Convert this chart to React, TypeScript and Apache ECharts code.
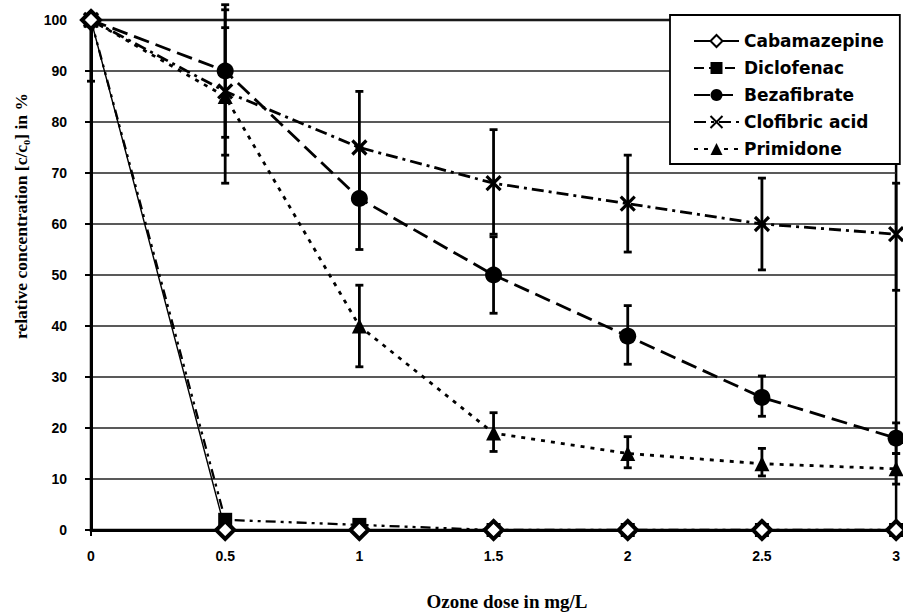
import React, { useEffect, useRef } from "react";
import * as echarts from "echarts";

const doses = [0, 0.5, 1, 1.5, 2, 2.5, 3];
const xTicks = ["0", "0.5", "1", "1.5", "2", "2.5", "3"];

const cabamazepine = [100, 0, 0, 0, 0, 0, 0];
const diclofenac = [100, 2, 1, 0, 0, 0, 0];
const bezafibrate = [100, 90, 65, 50, 38, 26, 18];
const clofibric = [100, 86, 75, 68, 64, 60, 58];
const primidone = [100, 85, 40, 19, 15, 13, 12];

const bezaLow = [null, 77, 55, 42.5, 32.5, 22.3, 15];
const bezaHigh = [null, 103, 75, 57.5, 44, 30.2, 21];
const cloLow = [88, 73.5, 64, 58, 54.5, 51, 47];
const cloHigh = [100, 98.5, 86, 78.5, 73.5, 69, 68];
const priLow = [null, 68, 32, 15.4, 12.2, 10.6, 9];
const priHigh = [null, 102, 48, 23, 18.3, 16, 15];

const names = ["Cabamazepine", "Diclofenac", "Bezafibrate", "Clofibric acid", "Primidone"];

function pts(vals: number[]) {
  return doses.map((d, i) => [d, vals[i]]);
}

function bars(lo: (number | null)[], hi: (number | null)[]) {
  const out: number[][] = [];
  doses.forEach((d, i) => {
    if (lo[i] != null && hi[i] != null) out.push([d, lo[i] as number, hi[i] as number]);
  });
  return out;
}

export default function App() {
  const ref = useRef<HTMLDivElement>(null);
  useEffect(() => {
    if (!ref.current) return;
    const chart = echarts.init(ref.current, null, { renderer: "svg" });
    const errData = [
      ...bars(bezaLow, bezaHigh),
      ...bars(cloLow, cloHigh),
      ...bars(priLow, priHigh),
    ];
    const option: any = {
      animation: false,
      backgroundColor: "#fff",
      grid: {
        left: 91,
        right: 2,
        top: 20,
        bottom: 86,
        show: true,
        borderColor: "#000",
        borderWidth: 2.5,
        backgroundColor: "transparent",
      },
      xAxis: {
        type: "value",
        min: 0,
        max: 3,
        interval: 0.5,
        axisLine: { show: true, lineStyle: { color: "#000", width: 3 } },
        axisTick: { show: true, length: 6, lineStyle: { color: "#000", width: 2 } },
        splitLine: { show: false },
        axisLabel: {
          margin: 19,
          color: "#000",
          fontFamily: "Liberation Sans",
          fontWeight: "bold",
          fontSize: 14,
          formatter: (v: number) => xTicks[Math.round(v * 2)] ?? "",
        },
      },
      yAxis: {
        type: "value",
        min: 0,
        max: 100,
        interval: 10,
        axisLine: { show: true, lineStyle: { color: "#000", width: 3 } },
        axisTick: { show: true, length: 6, lineStyle: { color: "#000", width: 2 } },
        splitLine: { show: true, lineStyle: { color: "#222", width: 1.6 } },
        axisLabel: {
          margin: 24,
          color: "#000",
          fontFamily: "Liberation Sans",
          fontWeight: "bold",
          fontSize: 14,
        },
      },
      legend: {
        orient: "vertical",
        left: 670,
        top: 15,
        data: names,
        backgroundColor: "#fff",
        borderColor: "#000",
        borderWidth: 1.8,
        borderRadius: 0,
        padding: [17, 16, 6, 23],
        itemGap: 9,
        itemWidth: 45,
        itemHeight: 15,
        textStyle: {
          color: "#000",
          fontFamily: "DejaVu Sans",
          fontWeight: "bold",
          fontSize: 17,
          lineHeight: 18,
        },
      },
      graphic: [
        {
          type: "text",
          x: 21,
          y: 216,
          rotation: Math.PI / 2,
          style: {
            text: "relative concentration [c/c\u2080] in %",
            fontFamily: "Liberation Serif",
            fontWeight: "bold",
            fontSize: 17.5,
            fill: "#000",
            align: "center",
            verticalAlign: "middle",
            textAlign: "center",
            textVerticalAlign: "middle",
          },
        },
        {
          type: "text",
          x: 507,
          y: 601,
          style: {
            text: "Ozone dose in mg/L",
            fontFamily: "Liberation Serif",
            fontWeight: "bold",
            fontSize: 19,
            fill: "#000",
            align: "center",
            verticalAlign: "middle",
            textAlign: "center",
            textVerticalAlign: "middle",
          },
        },
      ],
      series: [
        {
          type: "custom",
          name: "err",
          z: 1,
          clip: false,
          silent: true,
          data: errData,
          renderItem: (params: any, api: any) => {
            const x = api.value(0);
            const lo = api.coord([x, api.value(1)]);
            const hi = api.coord([x, api.value(2)]);
            const style = { stroke: "#000", lineWidth: 2.8 };
            return {
              type: "group",
              children: [
                { type: "line", shape: { x1: lo[0], y1: lo[1], x2: hi[0], y2: hi[1] }, style },
                { type: "line", shape: { x1: lo[0] - 4, y1: lo[1], x2: lo[0] + 4, y2: lo[1] }, style },
                { type: "line", shape: { x1: hi[0] - 4, y1: hi[1], x2: hi[0] + 4, y2: hi[1] }, style },
              ],
            };
          },
        },
        {
          type: "line",
          name: "Clofibric acid",
          z: 3,
          clip: false,
          data: pts(clofibric),
          symbol: "path://M0,0L10,10M10,0L0,10",
          symbolSize: 14,
          showAllSymbol: true,
          lineStyle: { color: "#000", width: 2.8, type: [12, 5, 3, 5] },
          itemStyle: { color: "rgba(0,0,0,0)", borderColor: "#000", borderWidth: 3.2 },
        },
        {
          type: "line",
          name: "Bezafibrate",
          z: 4,
          clip: false,
          data: pts(bezafibrate),
          symbol: "circle",
          symbolSize: 17,
          lineStyle: { color: "#000", width: 2.8, type: [16, 7] },
          itemStyle: { color: "#000", borderColor: "#000", borderWidth: 0 },
        },
        {
          type: "line",
          name: "Primidone",
          z: 5,
          clip: false,
          data: pts(primidone),
          symbol: "triangle",
          symbolSize: 15,
          lineStyle: { color: "#000", width: 2.8, type: [4, 6] },
          itemStyle: { color: "#000", borderColor: "#000", borderWidth: 0 },
        },
        {
          type: "line",
          name: "Diclofenac",
          z: 6,
          clip: false,
          data: pts(diclofenac),
          symbol: "rect",
          symbolSize: 14,
          lineStyle: { color: "#000", width: 2.3, type: [10, 5, 3, 5, 3, 5] },
          itemStyle: { color: "#000", borderColor: "#000", borderWidth: 0 },
        },
        {
          type: "line",
          name: "Cabamazepine",
          z: 7,
          clip: false,
          data: pts(cabamazepine),
          symbol: "diamond",
          symbolSize: 18,
          lineStyle: { color: "#000", width: 1.4, type: "solid" },
          itemStyle: { color: "#fff", borderColor: "#000", borderWidth: 4 },
        },
      ],
    };
    chart.setOption(option);
    return () => chart.dispose();
  }, []);
  return <div ref={ref} style={{ width: 903, height: 616, position: "absolute", left: 0, top: 0 }} />;
}
